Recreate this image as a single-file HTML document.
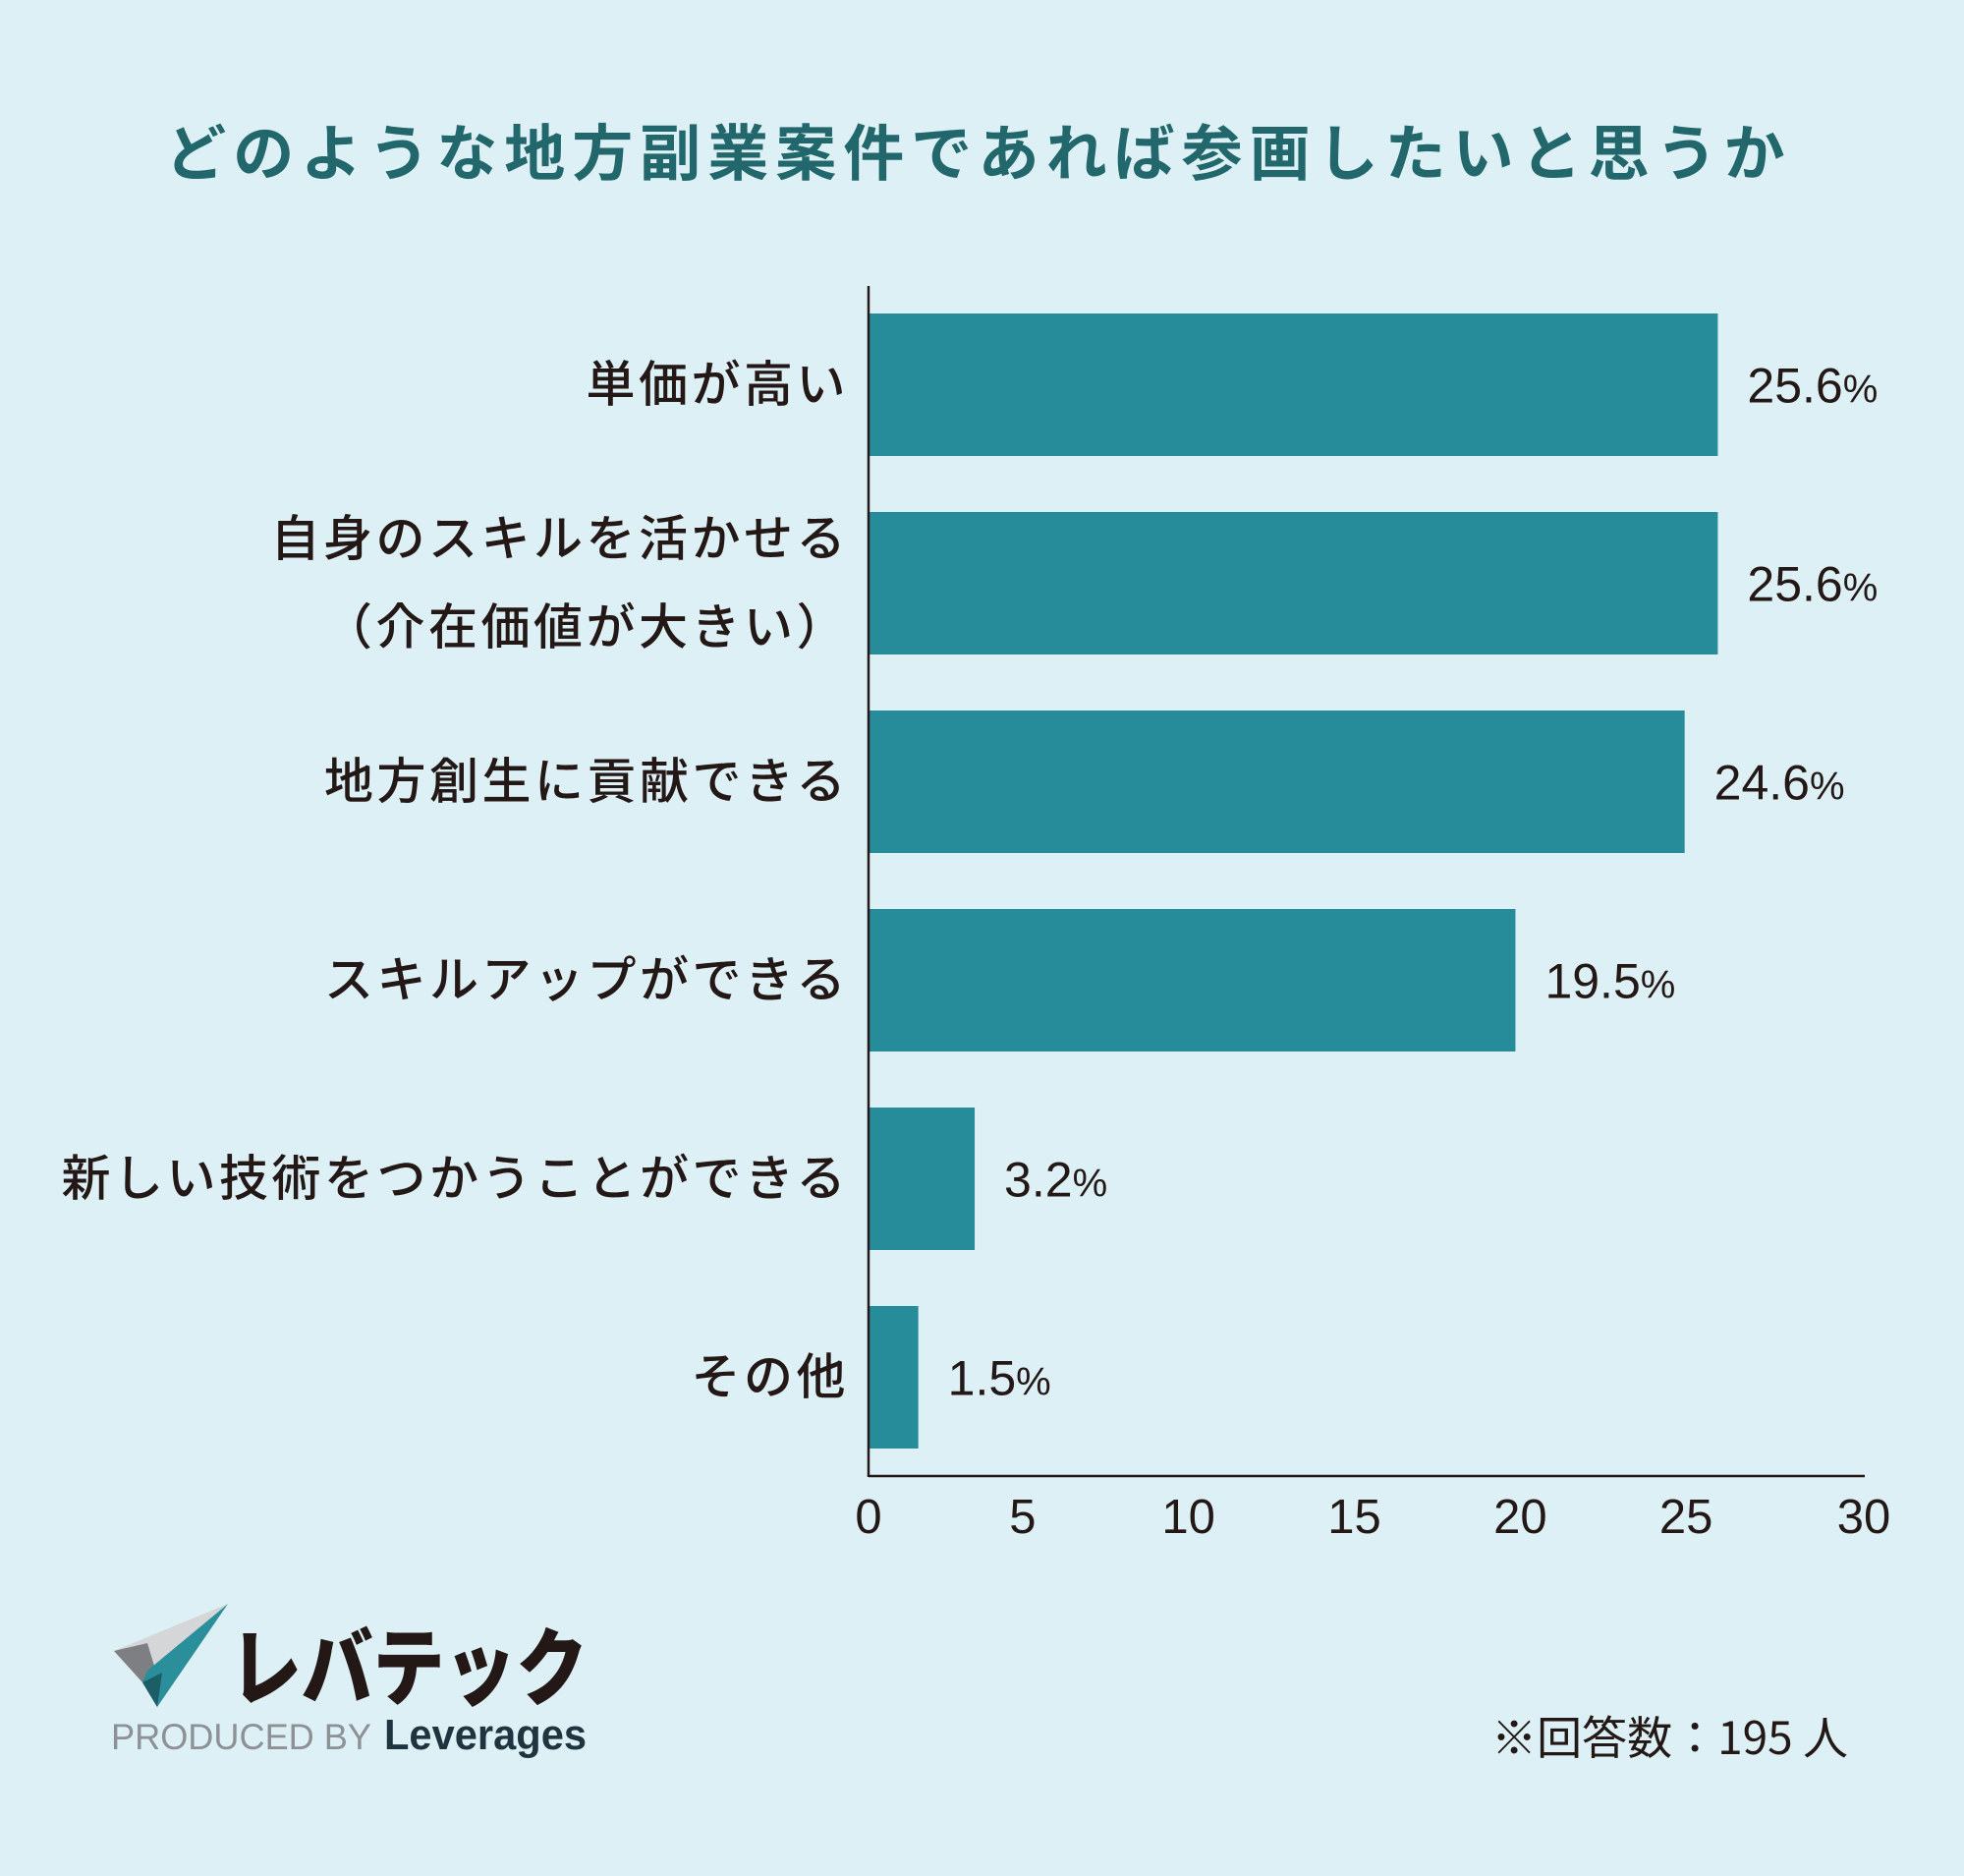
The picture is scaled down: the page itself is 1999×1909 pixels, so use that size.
<!DOCTYPE html>
<html><head><meta charset="utf-8">
<style>
html,body{margin:0;padding:0;background:#dcf0f5;}
svg{display:block;}
text{font-family:"Liberation Sans","Noto Sans CJK JP",sans-serif;}
</style></head>
<body>
<svg id="chart" width="1999" height="1909" viewBox="0 0 1999 1909" xmlns="http://www.w3.org/2000/svg">
<rect width="1999" height="1909" fill="#dcf0f5"/>
<text x="996" y="178" text-anchor="middle" font-size="62" font-weight="bold" fill="#21676b" letter-spacing="7" style='font-family:"Noto Sans CJK JP",sans-serif'>どのような地方副業案件であれば参画したいと思うか</text>
<g id="bars"></g>
<g id="labels"></g>
<g id="values"></g>
<g id="ticks"></g>
<line x1="884" y1="291" x2="884" y2="1503" stroke="#231815" stroke-width="2.5"/>
<line x1="884" y1="1502" x2="1898" y2="1502" stroke="#231815" stroke-width="2.5"/>
<g>
<polygon points="116,1680 232,1632 150,1700" fill="#d4d6d8"/>
<polygon points="116,1680 150,1672 160,1705 145,1712" fill="#7d7f82"/>
<polygon points="232,1632 160,1737 145,1712 150,1700" fill="#2a8f9b"/>
<polygon points="145,1712 165,1702 160,1737" fill="#1c5e66"/>
<text x="234" y="1728" font-size="86" font-weight="900" fill="#231815" textLength="364" lengthAdjust="spacingAndGlyphs" style='font-family:"Noto Sans CJK JP",sans-serif'>レバテック</text>
<text x="113" y="1780" font-size="37" fill="#8d9196" textLength="265" lengthAdjust="spacingAndGlyphs">PRODUCED BY</text>
<text x="391" y="1780" font-size="44" font-weight="bold" fill="#1e3540" textLength="206" lengthAdjust="spacingAndGlyphs">Leverages</text>
</g>
<text x="1881" y="1785" text-anchor="end" font-size="46" fill="#231815" style='font-family:"Noto Sans CJK JP",sans-serif'>※回答数：195 人</text>
</svg>
<script>
const categories = [["単価が高い"],["自身のスキルを活かせる","（介在価値が大きい）"],["地方創生に貢献できる"],["スキルアップができる"],["新しい技術をつかうことができる"],["その他"]];
const values = [25.6, 25.6, 24.6, 19.5, 3.2, 1.5];
const valueLabels = ["25.6", "25.6", "24.6", "19.5", "3.2", "1.5"];
const ticks = [0, 5, 10, 15, 20, 25, 30];

const NS = "http://www.w3.org/2000/svg";
const x0 = 884, x1 = 1897, xMax = 30;
const xs = v => x0 + (v / xMax) * (x1 - x0);
const barTop = i => 319 + i * 202;
const barH = 145;
function mk(tag, attrs, parent, txt){
  const e = document.createElementNS(NS, tag);
  for (const k in attrs) e.setAttribute(k, attrs[k]);
  if (txt !== undefined) e.textContent = txt;
  parent.appendChild(e);
  return e;
}
const gb = document.getElementById('bars'), gl = document.getElementById('labels'),
      gv = document.getElementById('values'), gt = document.getElementById('ticks');
values.forEach((v, i) => {
  const r = mk('rect', {x: x0, y: barTop(i), width: xs(v) - x0, height: barH, fill: '#268c9a'}, gb);
  
  
  const cy = barTop(i) + barH / 2;
  const lines = categories[i];
  lines.forEach((ln, j) => {
    const y = lines.length === 1 ? cy + 17 : cy - 45 + j * 90 + 17;
    const t = mk('text', {x: 864, y: y, 'text-anchor': 'end', 'font-size': 50, 'font-weight': 500, fill: '#231815', 'letter-spacing': 3.5, style: 'font-family:"Noto Sans CJK JP",sans-serif'}, gl, ln);
    
    
  });
  const vt = mk('text', {x: xs(v) + 30, y: cy + 18, 'font-size': 50, fill: '#231815'}, gv);
  
  
  mk('tspan', {}, vt, valueLabels[i]);
  mk('tspan', {'font-size': 40}, vt, '%');
});
ticks.forEach(t => {
  const e = mk('text', {x: xs(t) - (t > 0 && t < 30 ? 12 : 0), y: 1560, 'text-anchor': 'middle', 'font-size': 49, fill: '#231815'}, gt, String(t));
  
  
});
</script>
</body></html>
